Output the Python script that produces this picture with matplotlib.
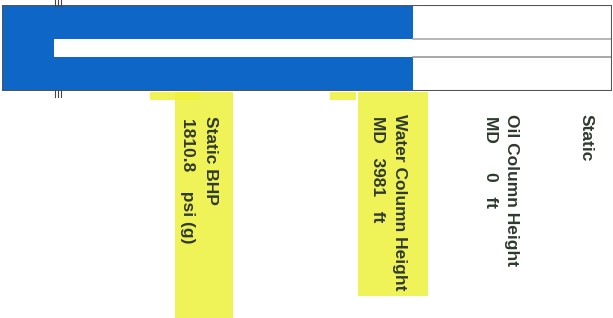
import matplotlib
matplotlib.use("Agg")
import matplotlib.pyplot as plt
from matplotlib.patches import Rectangle

# ---- data (feet / psi) ----
total_depth_ft = 5910          # well length represented by the box
water_column_ft = 3981         # water column height (MD)
oil_column_ft = 0              # oil column height (MD)
tubing_end_ft = 500            # tubing end, measured from bottom
static_bhp_psi = 1810.8

labels = [
    ("Static", ""),
    ("Oil Column Height", f"MD      {oil_column_ft}   ft"),
    ("Water Column Height", f"MD   {water_column_ft}   ft"),
    ("Static BHP", f"{static_bhp_psi}    psi (g)"),
]

W, H = 613, 318
fig = plt.figure(figsize=(W / 100, H / 100), dpi=100)
fig.patch.set_facecolor("white")

# highlighter marks (background)
hl = "#eef23a"
for (x0, y0, x1, y1) in [(175, 92, 233, 318), (358, 92, 428, 296), (150, 92, 200, 100), (330, 92, 356, 100)]:
    fig.patches.append(Rectangle((x0 / W, 1 - y1 / H), (x1 - x0) / W, (y1 - y0) / H,
                                 transform=fig.transFigure, color=hl, alpha=0.85, zorder=0, lw=0))

ax = fig.add_axes([2 / W, 1 - 91 / H, 610 / W, 86 / H])
ax.set_xlim(0, total_depth_ft)
ax.set_ylim(0, 1)
ax.axis("off")

blue = "#0e66c6"
# outer box
ax.add_patch(Rectangle((0, 0), total_depth_ft, 1, fill=False, ec="#555555", lw=1.5, zorder=5))
# water column
ax.barh(0.5, water_column_ft, height=0.98, left=0, color=blue, zorder=2)
# oil column (zero height)
ax.barh(0.5, oil_column_ft, height=0.98, left=water_column_ft, color="#2a8a2a", zorder=2)
# tubing (white strip)
ax.barh(0.495, total_depth_ft - tubing_end_ft, height=0.21, left=tubing_end_ft, color="white", zorder=3)
ax.plot([water_column_ft, total_depth_ft], [0.60, 0.60], color="#aaaaaa", lw=1.2, zorder=4)
ax.plot([water_column_ft, total_depth_ft], [0.39, 0.39], color="#999999", lw=1.2, zorder=4)

# collar tick marks
for xp in (55, 58, 61):
    fig.add_artist(plt.Line2D([xp / W, xp / W], [1 - 0 / H, 1 - 6 / H], transform=fig.transFigure, color="#444", lw=0.8))
    fig.add_artist(plt.Line2D([xp / W, xp / W], [1 - 90 / H, 1 - 97 / H], transform=fig.transFigure, color="#444", lw=0.8))

txt_color = "#2f3a2f"
fs = 12.5
# (x center of first line, x center of second line) in px, and top in px
pos = [(586, None, 114), (512, 490, 114), (400, 378, 114), (210, 187, 116)]
for (l1, l2), (x1, x2, ytop) in zip(labels, pos):
    fig.text(x1 / W, 1 - ytop / H, l1, rotation=-90, ha="center", va="top",
             fontsize=fs, color=txt_color, family="Liberation Sans", fontweight="bold")
    if x2 is not None:
        fig.text(x2 / W, 1 - (ytop + 2) / H, l2, rotation=-90, ha="center", va="top",
                 fontsize=fs, color=txt_color, family="Liberation Sans", fontweight="bold")

fig.savefig("out.png", dpi=100)
